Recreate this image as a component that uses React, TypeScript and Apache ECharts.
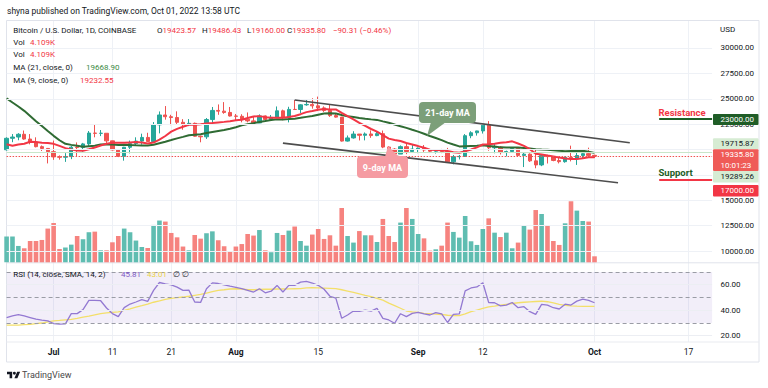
import React, { useEffect, useRef } from 'react';
import * as echarts from 'echarts';

const FONT = 'Roboto, "Noto Sans", "DejaVu Sans", sans-serif';
const TEXT = '#131722';
const RED = '#f23645';

// ---------- categories (one per day, Jun 23 .. Oct 21, 2022) ----------
const FIRST_DAY = Date.UTC(2022, 5, 23);
const DAY_COUNT = 121;
const categories: string[] = [];
for (let i = 0; i < DAY_COUNT; i++) categories.push(new Date(FIRST_DAY + i * 86400000).toISOString().slice(0, 10));

// ---------- daily OHLC (Jun 23 .. Oct 1) ----------
const opens = [
  19975, 21105, 21230, 21500, 21030, 20730, 20280, 20105,
  19785, 19270, 19240, 19300, 20230, 20190, 20550, 21620, 21590, 21600, 20850, 19960, 19320, 20220, 20580, 20830, 21190, 20790, 22430, 23400, 23230, 23150, 22680, 22450, 22580, 21310, 21250, 22950, 23850, 23780, 23650,
  23300, 23270, 22990, 22820, 22620, 23310, 22960, 23170, 23810, 23160, 23950, 23940, 24400, 24440, 24300, 24100, 23850, 23340, 23190, 20830, 21140, 21520, 21400, 21530, 21370, 21560, 20240, 20040, 19550, 20280, 19800,
  20050, 20130, 19950, 19830, 19990, 19800, 18790, 19290, 19320, 21360, 21650, 21830, 22400, 20170, 20230, 19700, 19800, 20110, 19420, 19540, 18880, 18480, 19400, 19300, 18920, 18800, 19230, 19080, 19410, 19590,
  19423.57,
];
const closes = [
  21105, 21230, 21500, 21030, 20730, 20280, 20105, 19785,
  19270, 19240, 19300, 20230, 20190, 20550, 21620, 21590, 21600, 20850, 19960, 19320, 20220, 20580, 20830, 21190, 20790, 22430, 23400, 23230, 23150, 22680, 22450, 22580, 21310, 21250, 22950, 23850, 23780, 23650, 23300,
  23270, 22990, 22820, 22620, 23310, 22960, 23170, 23810, 23160, 23950, 23940, 24400, 24440, 24300, 24100, 23850, 23340, 23190, 20830, 21140, 21520, 21400, 21530, 21370, 21560, 20240, 20040, 19550, 20280, 19800, 20050,
  20130, 19950, 19830, 19990, 19800, 18790, 19290, 19320, 21360, 21650, 21830, 22400, 20170, 20230, 19700, 19800, 20110, 19420, 19540, 18880, 18480, 19400, 19300, 18920, 18800, 19230, 19080, 19410, 19590, 19420,
  19335.8,
];
const highs = [
  21200, 21520, 21610, 21870, 21520, 21200, 20400, 20150,
  20880, 19420, 19640, 20340, 20700, 20650, 21820, 22500, 21920, 21600, 20870, 20050, 20260, 20880, 21200, 21560, 21650, 22700, 23750, 24280, 23420, 23760, 22990, 23000, 22650, 21360, 23100, 24190, 24440, 24670, 24190,
  23500, 23470, 23650, 23220, 23460, 23360, 23400, 24240, 23930, 24210, 24920, 24460, 24890, 25050, 25210, 24250, 24450, 23600, 23210, 21380, 21800, 21520, 21680, 21880, 21820, 21870, 20340, 20140, 20400, 20570, 20480,
  20200, 20440, 20050, 20000, 20060, 20160, 19460, 19460, 21520, 21800, 21850, 22480, 22800, 20540, 20340, 19890, 20190, 20110, 19690, 19620, 19950, 19500, 19490, 19310, 19190, 19310, 20380, 19780, 19650, 20180,
  19486.43,
];
const lows = [
  19890, 20720, 20910, 20960, 20510, 20210, 19850, 18630,
  18980, 19000, 18780, 19050, 19300, 19780, 20250, 21200, 21320, 20650, 19900, 19250, 18900, 19620, 20400, 20480, 20760, 20760, 21590, 22940, 22400, 22500, 21950, 22300, 21260, 20710, 21040, 22590, 23420, 23520, 23250,
  22870, 22680, 22680, 22430, 22590, 22930, 22840, 23150, 22880, 22670, 23890, 23600, 24310, 24020, 23780, 23700, 23210, 23140, 20780, 20780, 21070, 20890, 20900, 21150, 21310, 20130, 19810, 19550, 19550, 19540, 19800,
  19640, 19760, 19650, 19600, 19640, 18670, 18540, 19020, 19300, 21110, 21370, 21570, 19880, 19630, 19510, 19320, 19760, 19370, 18270, 18780, 18150, 18360, 18620, 18840, 18630, 18700, 18830, 18480, 19110, 19230,
  19160,
];
// volume, thousands of BTC
const volumes = [
  17.6, 17.6, 11.2, 9.6, 14.6, 14.6, 15.3, 23.1, 26.9, 9.1,
  10.1, 12.1, 18.0, 15.8, 20.6, 21.0, 8.2, 8.2, 13.7, 18.0,
  23.1, 20.6, 14.9, 10.5, 9.8, 25.6, 28.6, 27.9, 20.1, 17.1,
  10.8, 8.2, 18.7, 16.2, 19.9, 21.2, 15.1, 11.0, 7.3, 10.8,
  12.5, 19.4, 18.3, 22.1, 8.2, 6.9, 20.1, 18.7, 21.7, 24.5,
  14.6, 11.4, 19.0, 22.8, 16.0, 18.5, 11.4, 37.2, 18.0, 13.5,
  21.4, 18.5, 18.5, 13.9, 29.7, 18.0, 13.9, 27.2, 37.2, 29.7,
  19.4, 16.4, 8.0, 8.9, 11.4, 27.2, 20.8, 16.9, 31.7, 14.4,
  11.9, 22.8, 30.1, 20.3, 17.3, 20.3, 9.6, 13.5, 25.3, 22.4,
  35.8, 33.1, 24.9, 14.6, 11.9, 26.7, 41.8, 35.4, 28.3, 27.9,
  4.109,
];
const ma21 = [
  25034, 24631, 24233, 23810, 23303, 22786, 22306, 21814, 21347, 20910,
  20564, 20456, 20363, 20266, 20325, 20380, 20504, 20518, 20483, 20450,
  20462, 20437, 20418, 20403, 20392, 20473, 20621, 20770, 20930, 21093,
  21246, 21402, 21453, 21504, 21618, 21724, 21829, 21926, 22043, 22200,
  22375, 22499, 22596, 22714, 22799, 22912, 22978, 22966, 23000, 23038,
  23120, 23215, 23297, 23430, 23553, 23572, 23540, 23400, 23280, 23196,
  23107, 23037, 22968, 22918, 22771, 22632, 22460, 22292, 22132, 21946,
  21765, 21553, 21333, 21128, 20923, 20682, 20490, 20305, 20330, 20355,
  20370, 20417, 20352, 20298, 20210, 20189, 20192, 20186, 20150, 20107,
  20032, 19997, 19966, 19923, 19866, 19839, 19853, 19859, 19871, 19779,
  19668.9,
];
const ma9 = [
  20526, 20376, 20501, 20566, 20758, 20728, 20661, 20637, 20559, 20352,
  20138, 19997, 19903, 19883, 20032, 20197, 20399, 20574, 20654, 20657,
  20656, 20699, 20730, 20682, 20593, 20686, 20969, 21332, 21758, 22031,
  22239, 22433, 22447, 22498, 22556, 22606, 22667, 22722, 22791, 22882,
  22928, 23096, 23248, 23288, 23189, 23121, 23139, 23123, 23199, 23304,
  23480, 23682, 23792, 23919, 23994, 23942, 23946, 23599, 23288, 22968,
  22630, 22322, 22019, 21764, 21420, 21070, 20928, 20832, 20641, 20491,
  20336, 20178, 19986, 19958, 19931, 19847, 19737, 19683, 19829, 19998,
  20207, 20492, 20512, 20560, 20661, 20718, 20806, 20590, 20356, 20028,
  19592, 19507, 19403, 19317, 19206, 19108, 19070, 19056, 19134, 19239,
  19232.55,
];
const rsi = [
  34.2, 35.5, 36.5, 35.5, 34.2, 32.9, 32.1, 31.6, 29.5, 29.0,
  29.2, 37.3, 37.3, 40.4, 47.7, 47.7, 47.4, 41.7, 37.3, 34.9,
  42.0, 44.8, 46.4, 48.2, 46.9, 55.5, 61.7, 60.6, 59.9, 58.1,
  55.5, 55.7, 46.4, 46.1, 56.8, 61.4, 60.9, 59.9, 58.8, 57.8,
  56.8, 55.5, 54.2, 56.8, 53.6, 54.9, 59.4, 54.2, 59.4, 59.4,
  62.0, 62.6, 61.3, 59.5, 56.4, 50.9, 49.4, 33.6, 36.2, 39.3,
  39.0, 40.1, 39.3, 41.4, 33.6, 32.3, 29.7, 37.2, 34.9, 37.5,
  38.3, 37.0, 36.2, 38.0, 37.0, 30.3, 36.7, 37.0, 55.1, 57.4,
  58.2, 61.5, 46.0, 45.8, 43.4, 44.0, 46.0, 41.9, 42.7, 38.8,
  36.7, 44.5, 44.0, 41.9, 40.9, 44.7, 44.0, 47.1, 48.6, 47.6,
  45.81,
];
const rsiSma = [
  28.2, 28.2, 28.3, 28.6, 28.9, 29.4, 29.9, 30.8, 31.5, 31.9,
  32.4, 32.8, 33.6, 34.5, 35.3, 36.3, 37.3, 37.8, 38.3, 38.6,
  39.8, 41.0, 42.3, 43.5, 44.8, 46.2, 47.3, 48.5, 49.3, 49.8,
  50.3, 50.9, 51.6, 52.3, 53.4, 54.5, 55.5, 56.0, 56.6, 56.8,
  56.6, 56.0, 56.0, 56.2, 56.4, 56.4, 56.6, 56.6, 56.7, 56.8,
  56.9, 57.4, 57.6, 57.5, 57.3, 57.1, 56.9, 56.0, 55.0, 54.0,
  52.8, 51.6, 50.6, 49.2, 47.8, 45.5, 43.5, 41.5, 39.3, 38.6,
  38.2, 37.5, 37.2, 36.9, 36.6, 36.0, 35.8, 35.7, 37.0, 38.8,
  40.1, 41.3, 42.5, 43.1, 44.0, 44.6, 45.2, 45.8, 46.2, 46.5,
  46.8, 47.0, 46.6, 45.7, 44.6, 43.8, 43.3, 43.1, 43.0, 43.0,
  43.01,
];

// ---------- ticks, levels, drawings ----------
const xTickDates = ['2022-07-01', '2022-07-11', '2022-07-21', '2022-08-01', '2022-08-15', '2022-09-01', '2022-09-12', '2022-10-01', '2022-10-17'];
const xTickLabels = ['Jul', '11', '21', 'Aug', '15', 'Sep', '12', 'Oct', '17'];
const monthLabels = ['Jul', 'Aug', 'Sep', 'Oct'];
const priceTicks = [10000, 12500, 15000, 17500, 20000, 22500, 25000, 27500, 30000];
// labels that the reference leaves visible (the others sit wholly under the price tags)
const priceTickLabels = [10000, 12500, 15000, 22500, 25000, 27500, 30000];
const rsiTicks = [20, 40, 60];
const rsiBands = [30, 50, 70];
const channelUpper: [string, number][] = [['2022-08-11', 24880], ['2022-10-07', 20670]];
const channelLower: [string, number][] = [['2022-08-09', 20630], ['2022-10-05', 16730]];
const resistanceLevel = 23000;
const supportLevel = 17000;
const levelSpan = ['2022-10-12', '2022-10-21'];
const lastPrice = 19335.8;
const upperStat = 19715.87;
const lowerStat = 19289.26;

// layout
const GL = 6.6;
const GW = 705.5;

const tickSet = new Set(xTickDates);

function txt(x: number, y: number, text: string, o: any = {}) {
  return {
    type: 'text', x, y, z: o.z || 20, silent: true,
    style: {
      text, fill: o.color || TEXT, fontSize: o.size || 8, fontFamily: FONT,
      fontWeight: o.weight || 'normal', align: o.align || 'left', verticalAlign: 'middle',
      lineHeight: o.lineHeight, rich: o.rich,
    },
  };
}

const LOGO_D = 'M14 22H7V11H0V4h14v18zM28 22h-8l7.5-18h8L28 22zM16 8a4 4 0 1 0 8 0a4 4 0 1 0 -8 0z';
let logoRegistered = false;
function registerLogo() {
  if (logoRegistered) return;
  echarts.graphic.registerShape('tvlogo', echarts.graphic.extendPath(LOGO_D, {}) as any);
  logoRegistered = true;
}

export default function App() {
  const ref = useRef<HTMLDivElement>(null);
  useEffect(() => {
    if (!ref.current) return;
    registerLogo();
    const chart = echarts.init(ref.current, undefined, { renderer: 'svg' });

    const gridLineStyle = { color: '#eef1f6', width: 1, type: 'solid' };
    const priceGridLines = priceTicks.map((v) => ({ yAxis: v, lineStyle: gridLineStyle }));
    const seg = (a: [string, number], b: [string, number], lineStyle: any) => [
      { coord: a, lineStyle }, { coord: b, lineStyle },
    ];
    const channelStyle = { color: '#4d4d4d', width: 1.6, type: 'solid' };

    const option: any = {
      animation: false,
      backgroundColor: '#ffffff',
      grid: [
        { left: GL, top: 21, width: GW, height: 242 },
        { left: GL, top: 189.3, width: GW, height: 73 },
        { left: GL, top: 263, width: GW, height: 79 },
      ],
      xAxis: [0, 1, 2].map((g) => ({
        type: 'category',
        gridIndex: g,
        data: categories,
        boundaryGap: false,
        axisLine: { show: false },
        axisTick: { show: false },
        axisLabel: g === 2 ? {
          show: true,
          interval: (_i: number, v: string) => tickSet.has(v),
          margin: 5.5,
          formatter: (v: string) => {
            const k = xTickDates.indexOf(v);
            if (k < 0) return '';
            const t = xTickLabels[k];
            return monthLabels.includes(t) ? `{b|${t}}` : `{n|${t}}`;
          },
          rich: {
            b: { fontWeight: 'bold', fontSize: 8.5, color: TEXT, fontFamily: FONT },
            n: { fontSize: 8.5, color: TEXT, fontFamily: FONT },
          },
        } : { show: false },
        splitLine: g === 1 ? { show: false } : {
          show: true,
          interval: (_i: number, v: string) => tickSet.has(v),
          lineStyle: { color: '#eef1f6', width: 1 },
        },
      })),
      yAxis: [
        { type: 'value', gridIndex: 0, min: 8818, max: 32660, show: false, splitLine: { show: false } },
        { type: 'value', gridIndex: 1, min: 0, max: 50, show: false, splitLine: { show: false } },
        { type: 'value', gridIndex: 2, min: 15, max: 77, show: false, splitLine: { show: false } },
      ],
      series: [
        {
          type: 'bar', name: 'Volume', xAxisIndex: 1, yAxisIndex: 1, barWidth: 4.6, silent: true,
          data: volumes.map((v, i) => ({
            value: v,
            itemStyle: { color: closes[i] >= opens[i] ? '#5fbdb1' : '#f6837f' },
          })),
        },
        {
          type: 'candlestick', name: 'BTCUSD', xAxisIndex: 0, yAxisIndex: 0, barWidth: 3.8, silent: true,
          data: opens.map((o, i) => [o, closes[i], lows[i], highs[i]]),
          itemStyle: { color: '#26a69a', color0: '#ef5350', borderColor: '#26a69a', borderColor0: '#ef5350', borderWidth: 1 },
          markLine: {
            silent: true, symbol: ['none', 'none'], animation: false,
            label: { show: false },
            data: [
              ...priceGridLines,
              { yAxis: upperStat, lineStyle: { color: '#c8e6c9', width: 1, type: 'solid' } },
              { yAxis: lastPrice, lineStyle: { color: '#ef5350', width: 1, type: [1.5, 1.5] } },
              seg(channelUpper[0], channelUpper[1], channelStyle),
              seg(channelLower[0], channelLower[1], channelStyle),
              seg([levelSpan[0], resistanceLevel], [levelSpan[1], resistanceLevel], { color: '#1e5e26', width: 2, type: 'solid' }),
              seg([levelSpan[0], supportLevel], [levelSpan[1], supportLevel], { color: RED, width: 2, type: 'solid' }),
            ],
          },
        },
        {
          type: 'line', name: 'MA21', xAxisIndex: 0, yAxisIndex: 0, data: ma21, symbol: 'none', silent: true,
          lineStyle: { color: '#2f6b33', width: 2 },
        },
        {
          type: 'line', name: 'MA9', xAxisIndex: 0, yAxisIndex: 0, data: ma9, symbol: 'none', silent: true,
          lineStyle: { color: '#f23645', width: 2 },
        },
        {
          type: 'line', name: 'RSI SMA', xAxisIndex: 2, yAxisIndex: 2, data: rsiSma, symbol: 'none', silent: true,
          lineStyle: { color: '#f3df6a', width: 1.3 },
          markArea: {
            silent: true,
            itemStyle: { color: 'rgba(126,87,194,0.1)' },
            data: [[{ yAxis: rsiBands[0] }, { yAxis: rsiBands[2] }]],
          },
          markLine: {
            silent: true, symbol: ['none', 'none'], animation: false, label: { show: false },
            data: [
              ...rsiTicks.map((v) => ({ yAxis: v, lineStyle: { color: '#eceef3', width: 1, type: 'solid' } })),
              ...rsiBands.map((v) => ({ yAxis: v, lineStyle: { color: '#9a9ca5', width: 1, type: [4, 3] } })),
            ],
          },
        },
        {
          type: 'line', name: 'RSI', xAxisIndex: 2, yAxisIndex: 2, data: rsi, symbol: 'none', silent: true,
          lineStyle: { color: '#9379d2', width: 1.3 },
        },
      ],
    };
    chart.setOption(option);

    const py = (v: number) => chart.convertToPixel({ yAxisIndex: 0 }, v) as unknown as number;
    const ry = (v: number) => chart.convertToPixel({ yAxisIndex: 2 }, v) as unknown as number;

    const boxes = [
      { price: resistanceLevel, text: '23000.00', bg: '#1f5d27', fg: '#ffffff', dy: 0.4, h: 11 },
      { price: upperStat, text: '19715.87', bg: '#d6ecd3', fg: TEXT, dy: -8.6, h: 11 },
      { price: lastPrice, text: '19335.80\n10:01:23', bg: '#ef5b57', fg: '#ffffff', dy: 3.9, h: 21.7 },
      { price: lowerStat, text: '19289.26', bg: '#d6ecd3', fg: TEXT, dy: 20, h: 11.6 },
      { price: supportLevel, text: '17000.00', bg: '#f23645', fg: '#ffffff', dy: 10.8, h: 11.6 },
    ];

    const g: any[] = [];
    // frame
    g.push({ type: 'rect', z: 1, silent: true, shape: { x: 6.5, y: 20.5, width: 752.5, height: 341.5 }, style: { fill: 'none', stroke: '#e0e3eb', lineWidth: 1 } });
    g.push({ type: 'line', z: 1, silent: true, shape: { x1: 6.5, y1: 262.8, x2: 759, y2: 262.8 }, style: { stroke: '#e0e3eb', lineWidth: 1 } });
    g.push({ type: 'line', z: 1, silent: true, shape: { x1: 6.5, y1: 342, x2: 759, y2: 342 }, style: { stroke: '#e9ebf0', lineWidth: 1 } });

    // header
    g.push(txt(7, 11, 'shyna published on TradingView.com, Oct 01, 2022 13:58 UTC', { size: 8.5 }));
    const kv = (k: string, v: string) => ({
      rich: {
        k: { fill: TEXT, fontSize: 8, fontFamily: FONT },
        v: { fill: RED, fontSize: 8, fontFamily: FONT },
      }, text: k ? `{k|${k}}{v|${v}}` : `{v|${v}}`,
    });
    g.push(txt(13.3, 30, 'Bitcoin / U.S. Dollar, 1D, COINBASE'));
    [[157, 'O', '19423.57'], [202, 'H', '19486.43'], [247, 'L', '19160.00'], [287, 'C', '19335.80'], [333, '', '\u221290.31 (\u22120.46%)']].forEach(([x, k, v]) => {
      const r = kv(k as string, v as string);
      g.push(txt(x as number, 30, r.text, { rich: r.rich }));
    });
    g.push(txt(13.3, 42.5, 'Vol'));
    g.push(txt(30, 42.5, '4.109K', { color: RED }));
    g.push(txt(13.3, 54.5, 'Vol'));
    g.push(txt(30, 54.5, '4.109K', { color: RED }));
    g.push(txt(13.3, 67, 'MA (21, close, 0)'));
    g.push(txt(86, 67, '19668.90', { color: '#3b8a3f' }));
    g.push(txt(13.3, 80, 'MA (9, close, 0)'));
    g.push(txt(80, 80, '19232.55', { color: RED }));

    // RSI legend
    g.push(txt(13.3, 274, 'RSI (14, close, SMA, 14, 2)'));
    g.push(txt(121, 274, '45.81', { color: '#7e57c2' }));
    g.push(txt(147, 274, '43.01', { color: '#ecd24a' }));
    g.push(txt(173, 274, '\u2205 \u2205'));

    // price scale
    g.push(txt(720, 29.5, 'USD'));
    priceTickLabels.forEach((v) => g.push(txt(720.5, py(v), v.toFixed(2))));
    rsiTicks.forEach((v) => g.push(txt(720.5, ry(v), v.toFixed(2))));
    boxes.forEach((b) => {
      const cy = py(b.price) + b.dy;
      g.push({ type: 'rect', z: 30, silent: true, shape: { x: 713, y: cy - b.h / 2, width: 45.5, height: b.h, r: 1 }, style: { fill: b.bg } });
      g.push(txt(720.5, cy, b.text, { color: b.fg, lineHeight: 10.5, z: 31 }));
    });

    // resistance / support captions
    g.push(txt(658.5, py(resistanceLevel) - 6.6, 'Resistance', { color: RED, weight: 'bold', size: 9.5 }));
    g.push(txt(658.5, py(supportLevel) - 7.4, 'Support', { color: '#1e5e26', weight: 'bold', size: 9.5 }));

    // callouts
    const green = '#7c9f79';
    g.push({ type: 'polygon', z: 25, silent: true, shape: { points: [[431, 122], [446, 122], [427, 136]] }, style: { fill: green } });
    g.push({ type: 'rect', z: 25, silent: true, shape: { x: 419, y: 102, width: 57, height: 21, r: 4 }, style: { fill: green } });
    g.push(txt(447.5, 112.5, '21-day MA', { color: '#ffffff', weight: 'bold', size: 9, align: 'center', z: 27 }));
    const pink = '#f59ba2';
    g.push({ type: 'polygon', z: 25, silent: true, shape: { points: [[385, 157], [399, 157], [388, 146]] }, style: { fill: pink } });
    g.push({ type: 'rect', z: 25, silent: true, shape: { x: 357, y: 156, width: 51, height: 22, r: 4 }, style: { fill: pink } });
    g.push(txt(382.5, 167.5, '9-day MA', { color: '#ffffff', weight: 'bold', size: 9, align: 'center', z: 27 }));

    // logo
    g.push({ type: 'tvlogo', z: 20, silent: true, x: 7, y: 370.2, scaleX: 0.37, scaleY: 0.37, style: { fill: '#131722' } });
    g.push(txt(22, 375, 'TradingView', { color: '#4a4a4a', size: 9 }));

    chart.setOption({ graphic: g });

    return () => chart.dispose();
  }, []);

  return (
    <div
      ref={ref}
      style={{ position: 'fixed', left: 0, top: 0, width: 768, height: 388, background: '#ffffff' }}
    />
  );
}
